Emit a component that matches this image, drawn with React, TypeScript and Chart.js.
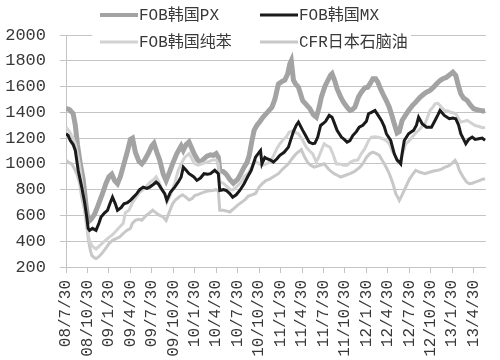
import React, { useEffect, useRef } from "react";
import { Chart, registerables } from "chart.js";

Chart.register(...registerables);

const tickMonths = [0, 3, 6, 9, 12, 15, 18, 21, 24, 27, 30, 33, 36, 39, 42, 45, 48, 51, 54, 57];
const tickLabels = ["08/7/30", "08/10/30", "09/1/30", "09/4/30", "09/7/30", "09/10/30", "10/1/30", "10/4/30", "10/7/30", "10/10/30", "11/1/30", "11/4/30", "11/7/30", "11/10/30", "12/1/30", "12/4/30", "12/7/30", "12/10/30", "13/1/30", "13/4/30"];

const seriesNames = ["FOB韩国PX", "FOB韩国MX", "FOB韩国纯苯", "CFR日本石脑油"];

// months since 2008/7/30
const pxMonths = [0, 0.5, 1.0, 1.3, 1.6, 2.0, 2.4, 2.8, 3.1, 3.5, 4.0, 4.5, 5.1, 5.6, 6.0, 6.4, 6.8, 7.2, 7.6, 8.1, 8.6, 9.0, 9.3, 9.7, 10.2, 10.6, 11.0, 11.5, 12.0, 12.3, 12.7, 13.1, 13.6, 14.0, 14.5, 14.9, 15.5, 16.1, 16.4, 16.8, 17.2, 17.6, 17.9, 18.4, 18.8, 19.3, 19.7, 20.2, 20.6, 21.0, 21.3, 21.5, 22.0, 22.4, 22.9, 23.4, 24.0, 24.5, 24.9, 25.3, 25.6, 26.0, 26.3, 26.7, 27.0, 27.5, 28.0, 28.4, 28.8, 29.2, 29.7, 30.2, 30.6, 31.0, 31.3, 31.5, 31.8, 32.1, 32.5, 33.1, 33.6, 34.1, 34.6, 35.0, 35.4, 35.7, 36.2, 36.6, 37.0, 37.2, 37.6, 37.9, 38.4, 38.8, 39.3, 39.7, 40.0, 40.4, 40.9, 41.3, 41.8, 42.2, 42.6, 42.9, 43.3, 43.6, 44.0, 44.3, 44.8, 45.2, 45.6, 45.9, 46.3, 46.6, 47.0, 47.5, 47.9, 48.4, 48.9, 49.5, 50.0, 50.4, 50.9, 51.4, 51.8, 52.3, 52.7, 53.2, 53.6, 54.1, 54.5, 54.8, 55.2, 55.6, 56.1, 56.5, 57.0, 57.5, 57.9, 58.3, 58.6];
const pxValues = [1430, 1420, 1390, 1300, 1150, 1000, 880, 680, 550, 570, 610, 680, 770, 850, 900, 920, 870, 846, 900, 1000, 1100, 1190, 1200, 1090, 1020, 1000, 1030, 1080, 1140, 1160, 1090, 1030, 920, 870, 940, 1000, 1080, 1140, 1105, 1150, 1170, 1120, 1080, 1030, 1014, 1040, 1060, 1070, 1066, 1080, 1052, 950, 940, 920, 880, 850, 880, 930, 975, 1010, 1060, 1180, 1260, 1300, 1320, 1360, 1390, 1415, 1440, 1500, 1620, 1640, 1650, 1700, 1776, 1800, 1650, 1620, 1595, 1490, 1460, 1428, 1380, 1362, 1440, 1517, 1600, 1647, 1690, 1700, 1640, 1583, 1520, 1479, 1440, 1415, 1420, 1440, 1520, 1556, 1590, 1595, 1630, 1660, 1660, 1634, 1580, 1544, 1490, 1440, 1370, 1311, 1240, 1250, 1337, 1380, 1415, 1450, 1479, 1517, 1540, 1556, 1570, 1595, 1620, 1647, 1660, 1672, 1690, 1711, 1686, 1620, 1544, 1510, 1492, 1460, 1428, 1420, 1415, 1410, 1415];

const mxMonths = [0, 0.3, 0.6, 1.0, 1.3, 1.7, 2.2, 2.6, 2.9, 3.1, 3.3, 3.7, 4.2, 4.6, 4.9, 5.4, 5.8, 6.2, 6.5, 6.9, 7.2, 7.7, 8.1, 8.6, 9.0, 9.4, 9.9, 10.3, 10.8, 11.3, 11.7, 12.2, 12.6, 12.9, 13.3, 13.8, 14.1, 14.6, 15.2, 15.7, 16.1, 16.4, 16.8, 17.2, 17.6, 17.9, 18.3, 18.8, 19.3, 19.8, 20.2, 20.8, 21.3, 21.5, 22.0, 22.4, 22.9, 23.3, 23.8, 24.3, 24.9, 25.4, 25.9, 26.5, 27.0, 27.2, 27.4, 27.8, 28.1, 28.6, 29.0, 29.5, 29.9, 30.5, 31.1, 31.5, 31.8, 32.2, 32.5, 33.1, 33.5, 34.0, 34.5, 34.8, 35.2, 35.6, 35.9, 36.3, 36.8, 37.2, 37.5, 37.9, 38.5, 38.9, 39.3, 39.7, 40.1, 40.6, 41.0, 41.5, 42.0, 42.3, 42.7, 43.2, 43.6, 44.1, 44.5, 44.8, 45.4, 45.9, 46.3, 46.6, 46.8, 47.0, 47.3, 47.9, 48.3, 48.6, 49.0, 49.3, 49.8, 50.4, 51.1, 51.6, 52.0, 52.3, 52.9, 53.6, 54.1, 54.5, 54.9, 55.2, 55.6, 55.9, 56.3, 56.8, 57.2, 57.7, 58.2, 58.6];
const mxValues = [1234, 1220, 1182, 1150, 1104, 950, 820, 700, 588, 500, 484, 500, 484, 540, 588, 620, 640, 700, 742, 690, 640, 660, 690, 700, 717, 740, 769, 800, 820, 810, 820, 840, 859, 846, 810, 769, 717, 780, 820, 860, 898, 975, 950, 924, 910, 898, 872, 890, 924, 920, 924, 950, 924, 794, 800, 794, 770, 742, 760, 794, 846, 900, 950, 1052, 1090, 1104, 1000, 1050, 1040, 1030, 1014, 1040, 1066, 1090, 1130, 1200, 1250, 1300, 1324, 1260, 1220, 1169, 1156, 1160, 1208, 1298, 1311, 1330, 1376, 1362, 1320, 1260, 1208, 1190, 1169, 1180, 1220, 1250, 1285, 1300, 1330, 1389, 1400, 1415, 1380, 1337, 1290, 1234, 1182, 1078, 1030, 1014, 1000, 1080, 1182, 1234, 1250, 1260, 1300, 1362, 1311, 1285, 1285, 1337, 1380, 1415, 1376, 1350, 1355, 1350, 1300, 1234, 1190, 1156, 1190, 1208, 1190, 1195, 1200, 1182];

const bzMonths = [0, 0.5, 1.0, 1.3, 1.7, 2.0, 2.4, 2.7, 3.0, 3.3, 3.7, 4.2, 4.8, 5.4, 6.0, 6.5, 7.0, 7.5, 8.0, 8.3, 8.8, 9.3, 9.8, 10.3, 10.8, 11.3, 11.8, 12.3, 12.6, 13.0, 13.5, 13.8, 14.1, 14.6, 15.2, 15.7, 16.1, 16.6, 17.2, 17.6, 18.0, 18.5, 19.0, 19.5, 20.0, 20.5, 21.0, 21.3, 21.5, 22.0, 22.4, 23.0, 23.4, 24.0, 24.5, 24.9, 25.5, 26.0, 26.5, 27.0, 27.5, 28.0, 28.4, 28.9, 29.5, 29.9, 30.4, 30.8, 31.2, 31.8, 32.2, 32.5, 33.1, 33.6, 34.0, 34.5, 35.0, 35.4, 35.7, 36.1, 36.5, 36.9, 37.3, 37.8, 38.3, 38.8, 39.3, 39.8, 40.3, 40.8, 41.3, 41.8, 42.3, 42.7, 43.2, 43.8, 44.3, 44.8, 45.2, 45.6, 45.9, 46.4, 46.8, 47.2, 47.5, 48.0, 48.4, 48.9, 49.3, 49.8, 50.2, 50.6, 50.9, 51.3, 51.6, 52.0, 52.3, 52.9, 53.4, 53.8, 54.2, 54.5, 54.9, 55.2, 55.6, 56.1, 56.6, 57.2, 57.8, 58.3, 58.6];
const bzValues = [1285, 1250, 1200, 1156, 1050, 950, 780, 588, 470, 400, 360, 340, 370, 400, 430, 450, 480, 510, 540, 620, 640, 700, 740, 780, 800, 830, 860, 880, 900, 860, 790, 769, 700, 760, 850, 950, 1000, 1050, 1080, 1040, 1000, 990, 1000, 1010, 1020, 1030, 1030, 1000, 860, 850, 830, 800, 800, 830, 860, 898, 930, 980, 1020, 1000, 990, 1000, 1010, 1050, 1120, 1156, 1190, 1208, 1246, 1260, 1240, 1234, 1182, 1130, 1104, 1078, 1014, 1060, 1104, 1156, 1140, 1130, 1080, 1000, 1000, 990, 990, 1014, 1027, 1030, 1080, 1120, 1180, 1208, 1210, 1205, 1195, 1180, 1156, 1100, 1078, 1014, 1040, 1100, 1156, 1180, 1208, 1240, 1260, 1290, 1311, 1370, 1415, 1440, 1466, 1470, 1453, 1415, 1410, 1401, 1395, 1389, 1350, 1324, 1330, 1337, 1320, 1298, 1290, 1280, 1285];

const npMonths = [0, 0.4, 0.8, 1.2, 1.5, 1.9, 2.2, 2.6, 2.9, 3.1, 3.4, 3.6, 4.0, 4.2, 4.6, 5.0, 5.5, 6.0, 6.5, 7.0, 7.5, 8.0, 8.5, 9.0, 9.3, 9.7, 10.2, 10.6, 11.2, 11.7, 12.1, 12.6, 13.1, 13.6, 14.0, 14.4, 14.9, 15.3, 15.8, 16.3, 16.8, 17.2, 17.6, 18.0, 18.6, 19.3, 19.8, 20.5, 21.0, 21.3, 21.5, 22.0, 22.4, 22.9, 23.4, 24.0, 24.5, 25.0, 25.5, 26.0, 26.5, 27.0, 27.5, 28.0, 28.4, 29.0, 29.7, 30.3, 31.1, 31.6, 32.2, 32.9, 33.3, 33.8, 34.2, 34.7, 35.3, 35.8, 36.1, 36.7, 37.1, 37.5, 38.0, 38.4, 39.0, 39.7, 40.3, 41.1, 41.6, 42.0, 42.5, 42.9, 43.4, 43.8, 44.3, 44.8, 45.2, 45.7, 46.1, 46.4, 46.6, 47.0, 47.5, 48.0, 48.5, 48.9, 49.5, 50.2, 50.8, 51.4, 52.0, 52.5, 53.0, 53.5, 53.9, 54.4, 54.7, 55.0, 55.5, 56.0, 56.4, 56.8, 57.3, 57.8, 58.2, 58.6];
const npValues = [1030, 1010, 1001, 960, 924, 850, 742, 640, 560, 420, 330, 290, 270, 265, 280, 304, 340, 380, 407, 420, 432, 460, 484, 500, 540, 562, 570, 562, 600, 620, 640, 620, 600, 588, 560, 620, 690, 720, 743, 760, 740, 720, 730, 755, 765, 781, 790, 794, 800, 790, 640, 640, 635, 627, 650, 680, 700, 720, 750, 760, 770, 820, 850, 872, 880, 900, 924, 960, 1001, 1040, 1080, 1110, 1060, 1010, 990, 975, 985, 995, 1001, 960, 940, 924, 910, 898, 910, 924, 940, 975, 1010, 1050, 1080, 1091, 1080, 1066, 1020, 970, 924, 850, 769, 740, 717, 760, 820, 880, 920, 950, 935, 924, 935, 945, 950, 960, 975, 985, 1001, 1027, 1000, 950, 900, 860, 846, 850, 860, 870, 880, 885];

const colors = ["#a3a3a3", "#1a1a1a", "#d2d2d2", "#c8c8c8"];
const widths = [5, 3, 3, 3];

const toPoints = (xs: number[], ys: number[]) => xs.map((x, i) => ({ x, y: ys[i] }));

const textColor = "#383838";
const gridColor = "#c4c4c4";
const monoFont = "'Liberation Mono', 'Noto Sans CJK SC', monospace";

const legendPlugin = {
  id: "customLegend",
  afterDraw(chart: any) {
    const ctx = chart.ctx;
    ctx.save();
    ctx.fillStyle = "#ffffff";
    ctx.fillRect(92, 0, 319, 52);
    const items = [
      { x: 100, y: 15 },
      { x: 260, y: 15 },
      { x: 100, y: 42 },
      { x: 260, y: 42 },
    ];
    items.forEach((it, i) => {
      ctx.beginPath();
      ctx.strokeStyle = colors[i];
      ctx.lineWidth = i === 0 ? 4 : 3;
      ctx.moveTo(it.x, it.y);
      ctx.lineTo(it.x + 38, it.y);
      ctx.stroke();
      ctx.fillStyle = textColor;
      ctx.font = "16px " + monoFont;
      ctx.textAlign = "left";
      ctx.textBaseline = "middle";
      ctx.fillText(seriesNames[i], it.x + 39, it.y + 1);
    });
    ctx.restore();
  },
};

export default function App() {
  const ref = useRef<HTMLCanvasElement | null>(null);
  useEffect(() => {
    if (!ref.current) return;
    const datasets = [
      { data: toPoints(pxMonths, pxValues), order: 2 },
      { data: toPoints(mxMonths, mxValues), order: 0 },
      { data: toPoints(bzMonths, bzValues), order: 1 },
      { data: toPoints(npMonths, npValues), order: 3 },
    ].map((d, i) => ({
      label: seriesNames[i],
      data: d.data,
      order: d.order,
      borderColor: colors[i],
      backgroundColor: colors[i],
      borderWidth: widths[i],
      pointRadius: 0,
      tension: 0,
      fill: false,
    }));
    const chart = new Chart(ref.current, {
      type: "line",
      data: { datasets },
      options: {
        animation: false,
        responsive: false,
        devicePixelRatio: 1,
        layout: { padding: { top: 35, right: 5, left: 0, bottom: 0 } },
        plugins: { legend: { display: false }, tooltip: { enabled: false } },
        scales: {
          x: {
            type: "linear",
            min: 0,
            max: 58.7,
            afterBuildTicks: (scale: any) => {
              scale.ticks = tickMonths.map((v) => ({ value: v }));
            },
            afterFit: (scale: any) => {
              scale.height = 93;
            },
            ticks: {
              autoSkip: false,
              minRotation: 90,
              maxRotation: 90,
              padding: 7,
              color: textColor,
              font: { family: monoFont, size: 16 },
              callback: (v: any) => {
                const idx = tickMonths.indexOf(Number(v));
                return idx >= 0 ? tickLabels[idx] : "";
              },
            },
            grid: { drawOnChartArea: false, drawTicks: true, tickLength: 6, color: gridColor },
            border: { display: true, color: gridColor },
          },
          y: {
            min: 200,
            max: 2000,
            afterFit: (scale: any) => {
              scale.width = 66;
            },
            ticks: {
              stepSize: 200,
              padding: 14,
              color: textColor,
              font: { family: monoFont, size: 17 },
              callback: (v: any) => String(v),
            },
            grid: { color: gridColor, tickLength: 6 },
            border: { display: true, color: gridColor },
          },
        },
      },
      plugins: [legendPlugin],
    });
    return () => chart.destroy();
  }, []);
  return (
    <div style={{ position: "absolute", left: 0, top: 0, width: 500, height: 360, background: "#fff" }}>
      <canvas ref={ref} width={500} height={360} />
    </div>
  );
}
